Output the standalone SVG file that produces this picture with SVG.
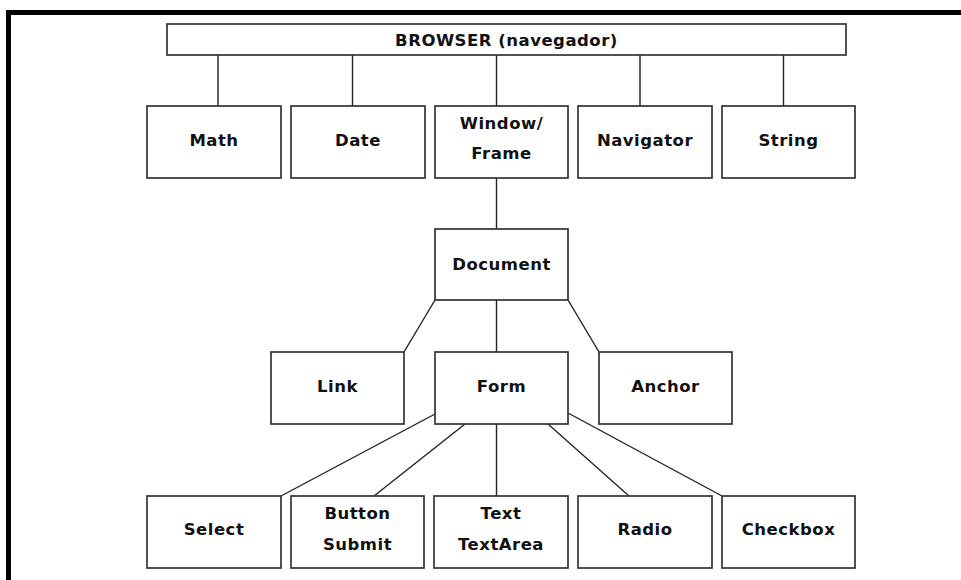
<svg xmlns="http://www.w3.org/2000/svg" width="961" height="580" viewBox="0 0 961 580">
<style>
.box{fill:#fff;stroke:#333;stroke-width:1.7}
.ln{stroke:#222;stroke-width:1.4;fill:none}
text{font-family:"DejaVu Sans",Verdana,sans-serif;font-weight:bold;font-size:16.5px;fill:#111;text-anchor:middle;letter-spacing:0.5px}
</style>
<rect width="961" height="580" fill="#fff"/>
<path d="M8.5 580 V12.5 H961" fill="none" stroke="#000" stroke-width="5"/>
<g id="connectors">
<line class="ln" x1="218" y1="55" x2="218" y2="106"/>
<line class="ln" x1="352.5" y1="55" x2="352.5" y2="106"/>
<line class="ln" x1="496.5" y1="55" x2="496.5" y2="106"/>
<line class="ln" x1="640" y1="55" x2="640" y2="106"/>
<line class="ln" x1="783.5" y1="55" x2="783.5" y2="106"/>
<line class="ln" x1="496.5" y1="178" x2="496.5" y2="229"/>
<line class="ln" x1="435" y1="300" x2="404" y2="352"/>
<line class="ln" x1="496.5" y1="300" x2="496.5" y2="352"/>
<line class="ln" x1="568" y1="300" x2="599" y2="352"/>
<line class="ln" x1="435" y1="414" x2="281" y2="496"/>
<line class="ln" x1="465" y1="424" x2="374" y2="496"/>
<line class="ln" x1="496.5" y1="424" x2="496.5" y2="496"/>
<line class="ln" x1="548" y1="424" x2="629" y2="496"/>
<line class="ln" x1="568" y1="413" x2="722" y2="496"/>
</g>
<g id="browser"><rect class="box" x="167" y="24" width="679" height="31"/><text x="506.5" y="46">BROWSER (navegador)</text></g>
<g id="math"><rect class="box" x="147" y="106" width="134" height="72"/><text x="214" y="146">Math</text></g>
<g id="date"><rect class="box" x="291" y="106" width="134" height="72"/><text x="358" y="146">Date</text></g>
<g id="window"><rect class="box" x="435" y="106" width="133" height="72"/><text x="501.5" y="129">Window/</text><text x="501.5" y="159">Frame</text></g>
<g id="navigator"><rect class="box" x="578" y="106" width="134" height="72"/><text x="645" y="146">Navigator</text></g>
<g id="string"><rect class="box" x="722" y="106" width="133" height="72"/><text x="788.5" y="146">String</text></g>
<g id="document"><rect class="box" x="435" y="229" width="133" height="71"/><text x="501.5" y="270">Document</text></g>
<g id="link"><rect class="box" x="271" y="352" width="133" height="72"/><text x="337.5" y="392">Link</text></g>
<g id="form"><rect class="box" x="435" y="352" width="133" height="72"/><text x="501.5" y="392">Form</text></g>
<g id="anchor"><rect class="box" x="599" y="352" width="133" height="72"/><text x="665.5" y="392">Anchor</text></g>
<g id="select"><rect class="box" x="147" y="496" width="134" height="72"/><text x="214" y="535">Select</text></g>
<g id="button"><rect class="box" x="291" y="496" width="133" height="72"/><text x="357.5" y="519">Button</text><text x="357.5" y="550">Submit</text></g>
<g id="text"><rect class="box" x="434" y="496" width="134" height="72"/><text x="501" y="519">Text</text><text x="501" y="550">TextArea</text></g>
<g id="radio"><rect class="box" x="578" y="496" width="134" height="72"/><text x="645" y="535">Radio</text></g>
<g id="checkbox"><rect class="box" x="722" y="496" width="133" height="72"/><text x="788.5" y="535">Checkbox</text></g>
</svg>
